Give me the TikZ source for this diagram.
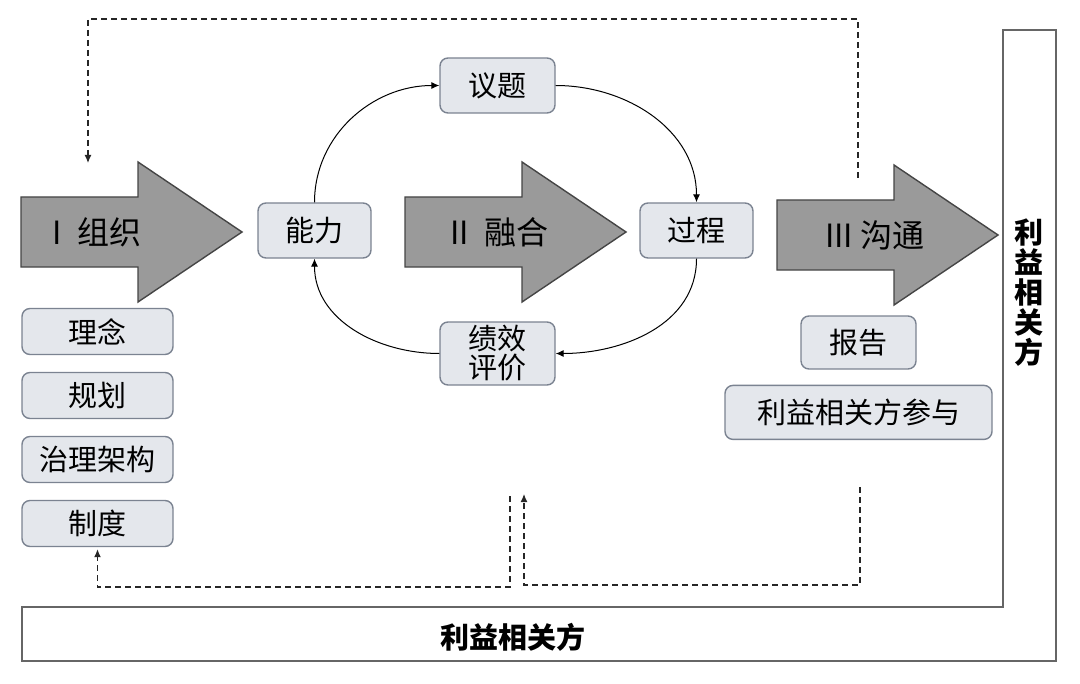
\documentclass[tikz,border=0pt]{standalone}
\usepackage{fontspec}
\setmainfont{Noto Sans CJK SC}
\usepackage{xcolor}
\usepackage{tikz}
\usetikzlibrary{arrows.meta,positioning}

\definecolor{boxfill}{HTML}{E4E7EC}
\definecolor{boxline}{HTML}{7B8391}
\definecolor{arrowfill}{HTML}{9A9A9A}
\definecolor{arrowline}{HTML}{454545}
\definecolor{frameline}{HTML}{666666}

\begin{document}
\begin{tikzpicture}[
  x=0.5pt, y=-0.5pt,
  box/.style={draw=boxline, fill=boxfill, line width=0.7pt, rounded corners=4pt,
              inner sep=1pt, align=center, font=\fontsize{14.5}{14.5}\selectfont},
  bigarrow/.style={draw=arrowline, fill=arrowfill, line width=0.7pt},
  arrtext/.style={anchor=west, font=\fontsize{16}{18}\selectfont},
  frame/.style={draw=frameline, line width=0.8pt},
  stake/.style={font=\fontsize{14.5}{15}\selectfont\bfseries, align=center},
  arr/.style={-{Latex[length=4pt,width=3.5pt]}, line width=0.5pt},
  fb/.style={-{Latex[length=4pt,width=3.5pt]}, line width=0.6pt,
             dash pattern=on 3pt off 2pt, black!85}
]
\useasboundingbox (0,0) rectangle (1080,684);

% stakeholder frame
\draw[frame] (22,607) -- (1003,607) -- (1003,30) -- (1056,30)
  -- (1056,661) -- (22,661) -- cycle;
\node[stake] (stakeB) at (513,637) {利益相关方};
\node[stake] (stakeR) at (1029,293) {利\\益\\相\\关\\方};

% three stages
\foreach \x/\y/\lx/\name/\txt in {21/197/45/org/{I\enspace 组织},
    405/197/443/merge/{II\enspace 融合}, 777/200/818/comm/{III\ 沟通}} {
  \draw[bigarrow] (\x,\y) -- ++(117,0) -- ++(0,-35) -- ++(104,70)
    -- ++(-104,70) -- ++(0,-35) -- ++(-117,0) -- cycle;
  \node[arrtext] (\name) at (\lx,\y+35) {\txt};
}

% cycle
\node[box, minimum width=56.5pt, minimum height=27.5pt] (nengli) at (314.5,230.5) {能力};
\node[box, minimum width=57.5pt, minimum height=27.5pt] (yiti) at (497.5,85.5) {议题};
\node[box, minimum width=56.5pt, minimum height=27.5pt] (guocheng) at (696.5,230.5) {过程};
\node[box, minimum width=57.5pt, minimum height=31.5pt] (jixiao) at (497.5,353.5) {绩效\\评价};

% organisation
\node[box, minimum width=75.5pt, minimum height=23pt] (linian) at (97.5,331.5) {理念};
\node[box, minimum width=75.5pt, minimum height=23pt, below=8.3pt of linian] (guihua) {规划};
\node[box, minimum width=75.5pt, minimum height=23pt, below=8.3pt of guihua] (zhili) {治理架构};
\node[box, minimum width=75.5pt, minimum height=23pt, below=8.3pt of zhili] (zhidu) {制度};

% communication
\node[box, minimum width=57.5pt, minimum height=26.5pt] (baogao) at (858.5,342.5) {报告};
\node[box, minimum width=133.5pt, minimum height=27pt, below=7.5pt of baogao] (canyu) {利益相关方参与};

\draw[arr] (nengli.north) to[out=90, in=180] (yiti.west);
\draw[arr] (yiti.east) to[out=0, in=90] (guocheng.north);
\draw[arr] (guocheng.south) to[out=-90, in=0] (jixiao.east);
\draw[arr] (jixiao.west) to[out=180, in=-90] (nengli.south);

% feedback
\coordinate (fbA) at (858,178);
\coordinate (fbB) at (88,163);
\coordinate (fbC) at (510,496);
\coordinate (fbD) at (860,487);
\coordinate (fbE) at (524,494);
\draw[fb] (fbA) -- ++(0,-159) -| (fbB);
\draw[fb, shorten >=1pt] (fbC) -- ++(0,91) -| (zhidu.south);
\draw[fb] (fbD) -- ++(0,98) -| (fbE);
\end{tikzpicture}
\end{document}
